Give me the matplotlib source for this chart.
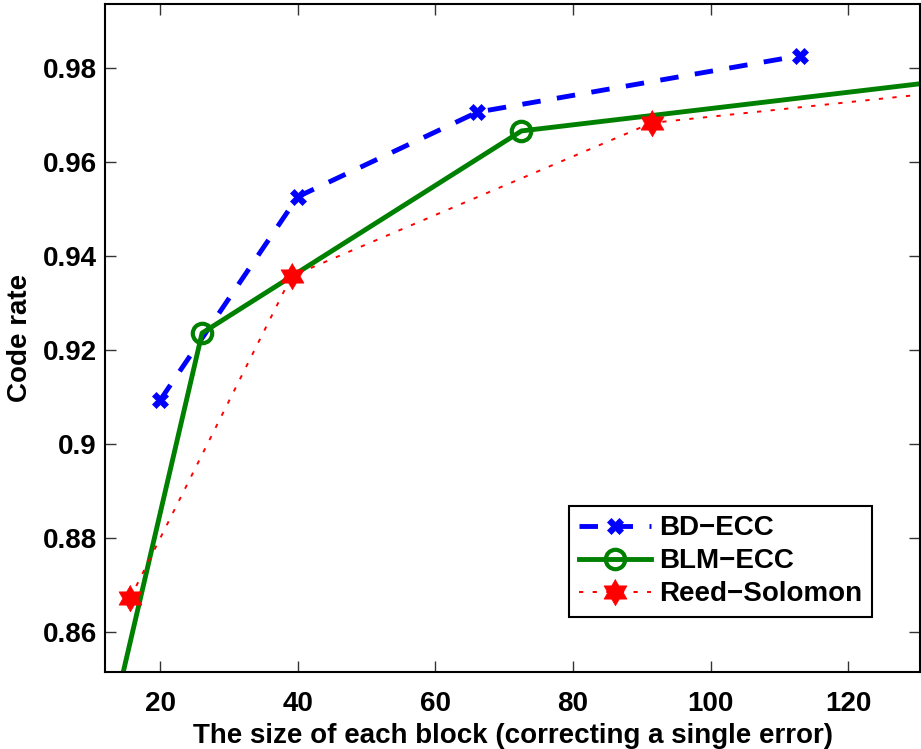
import numpy as np
import matplotlib
matplotlib.use('Agg')
import matplotlib.pyplot as plt

plt.rcParams['font.family'] = ['Liberation Sans', 'DejaVu Sans']
plt.rcParams['font.weight'] = 'bold'

# data
bd_x = [20, 40, 66.1, 112.9]
bd_y = [0.9093, 0.9526, 0.9706, 0.9826]

blm_x = [13, 26.1, 72.5, 140]
blm_y = [0.8411, 0.9236, 0.9666, 0.9783]

rs_x = [15.65, 39.1, 91.4, 140]
rs_y = [0.8672, 0.9357, 0.9683, 0.9758]

labels = ['BD\u2212ECC', 'BLM\u2212ECC', 'Reed\u2212Solomon']
xticks = [20, 40, 60, 80, 100, 120]
yticks = [0.86, 0.88, 0.9, 0.92, 0.94, 0.96, 0.98]
ytick_labels = ['0.86', '0.88', '0.9', '0.92', '0.94', '0.96', '0.98']

# six pointed star (matlab 'h' marker)
ang = np.pi / 2 + np.arange(12) * np.pi / 6
rad = np.where(np.arange(12) % 2 == 0, 1.0, 0.58)
hexagram = list(zip(rad * np.cos(ang), rad * np.sin(ang)))

fig = plt.figure(figsize=(9.21, 7.49), dpi=100)
ax = fig.add_axes([105 / 921, 1 - 672 / 749, 1 - 105 / 921 - 0.001, (672 - 4) / 749])

ax.plot(bd_x, bd_y, color='blue', lw=3.5, ls=(0, (3.8, 3.4)), marker='X',
        ms=11, mec='blue', mfc='blue', mew=0.5, label=labels[0])
ax.plot(blm_x, blm_y, color=(0, 0.5, 0), lw=3.5, marker='o', ms=14,
        mfc='none', mec=(0, 0.5, 0), mew=3, label=labels[1])
ax.plot(rs_x, rs_y, color='red', lw=1.4, ls=(0, (2.2, 4.8)), marker=hexagram,
        ms=19, mfc='red', mec='red', mew=0.5, label=labels[2])

ax.set_xlim(12.0, 130.4)
ax.set_ylim(0.8515, 0.9936)
ax.set_xticks(xticks)
ax.set_yticks(yticks)
ax.set_yticklabels(ytick_labels)
ax.tick_params(direction='in', length=8, width=1, top=True, right=True,
               labelsize=20, color='#333333')
ax.tick_params(axis='x', pad=14)
ax.tick_params(axis='y', pad=6)
for s in ax.spines.values():
    s.set_linewidth(1.5)

ax.set_xlabel('The size of each block (correcting a single error)',
              fontsize=20, fontweight='bold', labelpad=4)
ax.set_ylabel('Code rate', fontsize=20, fontweight='bold')
ax.yaxis.set_label_coords(33 / 921, 1 - 338 / 749, transform=fig.transFigure)

leg = ax.legend(loc='lower right', bbox_to_anchor=(872 / 921, 1 - 617 / 749),
                bbox_transform=fig.transFigure, borderaxespad=0,
                prop={'size': 20, 'weight': 'bold'}, handlelength=2.6,
                handletextpad=0.3, borderpad=0.35, labelspacing=0.25,
                fancybox=False, framealpha=1, edgecolor='black')
leg.get_frame().set_linewidth(1.5)

fig.savefig('out.png', dpi=100)
